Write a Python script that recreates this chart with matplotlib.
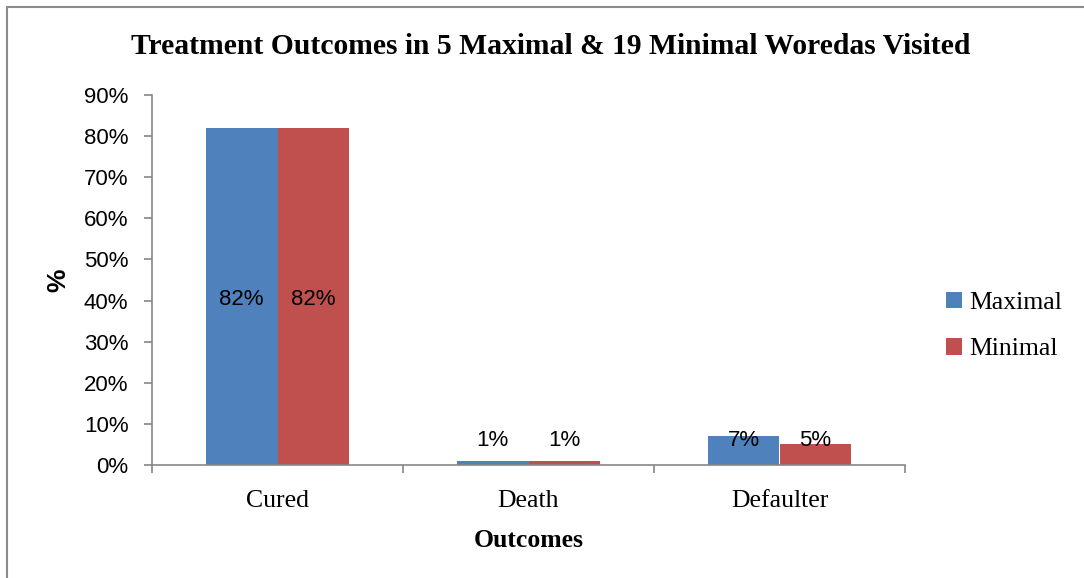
import matplotlib
matplotlib.use("Agg")
import matplotlib.pyplot as plt
import numpy as np
from matplotlib.patches import Rectangle

categories = ["Cured", "Death", "Defaulter"]
series_names = ["Maximal", "Minimal"]
maximal = [0.82, 0.01, 0.07]
minimal = [0.82, 0.01, 0.05]
y_ticks = [0, 0.1, 0.2, 0.3, 0.4, 0.5, 0.6, 0.7, 0.8, 0.9]
y_tick_labels = ["0%", "10%", "20%", "30%", "40%", "50%", "60%", "70%", "80%", "90%"]

colors = ["#4F81BD", "#C0504D"]
spine_c = "#868686"
serif = ["Liberation Serif", "DejaVu Serif"]
sans = ["Liberation Sans", "DejaVu Sans"]

W, H = 1084, 578
fig = plt.figure(figsize=(W / 100, H / 100), dpi=100)
fig.patches.append(Rectangle((7 / W, -0.1), 2, 1 - 7 / H + 0.1, transform=fig.transFigure,
                             fill=False, edgecolor="#8c8c8c", linewidth=1.5))

ax = fig.add_axes([152 / W, 1 - 465 / H, (905 - 152) / W, (465 - 95) / H])
x = np.arange(len(categories))
bw = 0.285
data = [maximal, minimal]
for i, (vals, c, name) in enumerate(zip(data, colors, series_names)):
    pos = x + (i - 0.5) * bw
    ax.bar(pos, vals, width=bw, color=c, label=name, edgecolor="none")
    for p, v in zip(pos, vals):
        ly = v / 2 - 0.008 if v > 0.2 else 0.06
        ax.text(p, ly, f"{round(v * 100)}%", ha="center", va="center",
                fontsize=16, family=sans, color="black")

ax.set_xlim(-0.5, 2.5)
ax.set_ylim(0, 0.9)
ax.set_yticks(y_ticks)
ax.set_yticklabels(y_tick_labels, family=sans, fontsize=16)
ax.set_xticks(x)
ax.set_xticklabels(categories, family=serif, fontsize=18.5)
ax.tick_params(axis="x", length=0, pad=18)
ax.tick_params(axis="y", length=6, color=spine_c, width=1.2, pad=11)
ax.set_xticks([-0.5, 0.5, 1.5, 2.5], minor=True)
ax.tick_params(axis="x", which="minor", length=6, color=spine_c, width=1.2)
for s in ["top", "right"]:
    ax.spines[s].set_visible(False)
for s in ["left", "bottom"]:
    ax.spines[s].set_color(spine_c)
    ax.spines[s].set_linewidth(1.2)

ax.set_xlabel("Outcomes", family=serif, fontsize=18.5, fontweight="bold", labelpad=12)
ax.set_ylabel("%", family=sans, fontsize=19, fontweight="bold", labelpad=10)

fig.text(551 / W, 1 - 46 / H, "Treatment Outcomes in 5 Maximal & 19 Minimal Woredas Visited",
         ha="center", va="center", family=serif, fontsize=21.3, fontweight="bold")

leg = fig.legend(loc="center left", bbox_to_anchor=(923 / W, 1 - 326 / H), frameon=False,
                 prop={"family": serif, "size": 18.5}, handlelength=0.6, handleheight=0.6,
                 handletextpad=0.3, labelspacing=0.95)

fig.savefig("out.png", dpi=100)
